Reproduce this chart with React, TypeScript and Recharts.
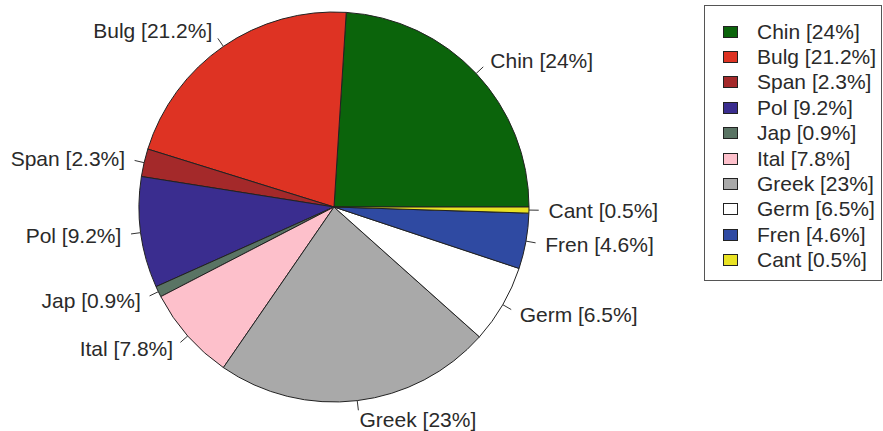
import { Legend, Pie, PieChart } from "recharts";

const languages = ["Chin", "Bulg", "Span", "Pol", "Jap", "Ital", "Greek", "Germ", "Fren", "Cant"];
const shares = [24, 21.2, 2.3, 9.2, 0.9, 7.8, 23, 6.5, 4.6, 0.5];
const sliceColors = [
  "#0b640b",
  "#de3323",
  "#a4292a",
  "#3a2d8f",
  "#5a7464",
  "#fdc0cb",
  "#a9a9a9",
  "#ffffff",
  "#2f4aa2",
  "#e9e223",
];

const data = languages.map((name, i) => ({
  name,
  value: shares[i],
  label: `${name} [${shares[i]}%]`,
  fill: sliceColors[i],
}));

const RAD = Math.PI / 180;
const FONT = "'Liberation Sans', Arial, Helvetica, sans-serif";

function SliceLabel(props: any) {
  const { cx, cy, midAngle, outerRadius, payload } = props;
  const cos = Math.cos(midAngle * RAD);
  const sin = Math.sin(midAngle * RAD);
  const x0 = cx + outerRadius * cos;
  const y0 = cy - outerRadius * sin;
  const x1 = cx + outerRadius * 1.05 * cos;
  const y1 = cy - outerRadius * 1.05 * sin;
  const tx = cx + outerRadius * 1.1 * cos;
  const ty = cy - outerRadius * 1.1 * sin;
  return (
    <g>
      <line x1={x0} y1={y0} x2={x1} y2={y1} stroke="#333" strokeWidth={1} />
      <text
        x={tx}
        y={ty}
        textAnchor={cos >= 0 ? "start" : "end"}
        dominantBaseline="central"
        fill="#2a2a2a"
        fontSize={21}
        fontFamily={FONT}
      >
        {payload.label}
      </text>
    </g>
  );
}

function LegendBox() {
  return (
    <div
      style={{
        width: 178,
        height: 276,
        border: "1px solid #555",
        boxSizing: "border-box",
        paddingTop: 13,
        paddingLeft: 18,
        fontFamily: FONT,
        fontSize: 21,
        color: "#2a2a2a",
      }}
    >
      {data.map((d) => (
        <div key={d.name} style={{ display: "flex", alignItems: "center", height: 25.4 }}>
          <span
            style={{
              display: "inline-block",
              width: 15,
              height: 12,
              background: d.fill,
              border: "1px solid #222",
              boxSizing: "border-box",
              marginRight: 19,
            }}
          />
          <span style={{ whiteSpace: "nowrap" }}>{d.label}</span>
        </div>
      ))}
    </div>
  );
}

export default function App() {
  return (
    <div style={{ position: "absolute", left: 0, top: 0, width: 883, height: 431, background: "#fff" }}>
      <PieChart width={883} height={431} margin={{ top: 0, right: 0, bottom: 0, left: 0 }}>
        <Pie
          data={data}
          dataKey="value"
          nameKey="name"
          cx={334}
          cy={207}
          outerRadius={195}
          startAngle={0}
          endAngle={360}
          stroke="#222"
          strokeWidth={1}
          label={SliceLabel}
          labelLine={false}
          isAnimationActive={false}
        />
        <Legend
          content={() => <LegendBox />}
          wrapperStyle={{ position: "absolute", left: 704, top: 5, width: 178 }}
        />
      </PieChart>
    </div>
  );
}
